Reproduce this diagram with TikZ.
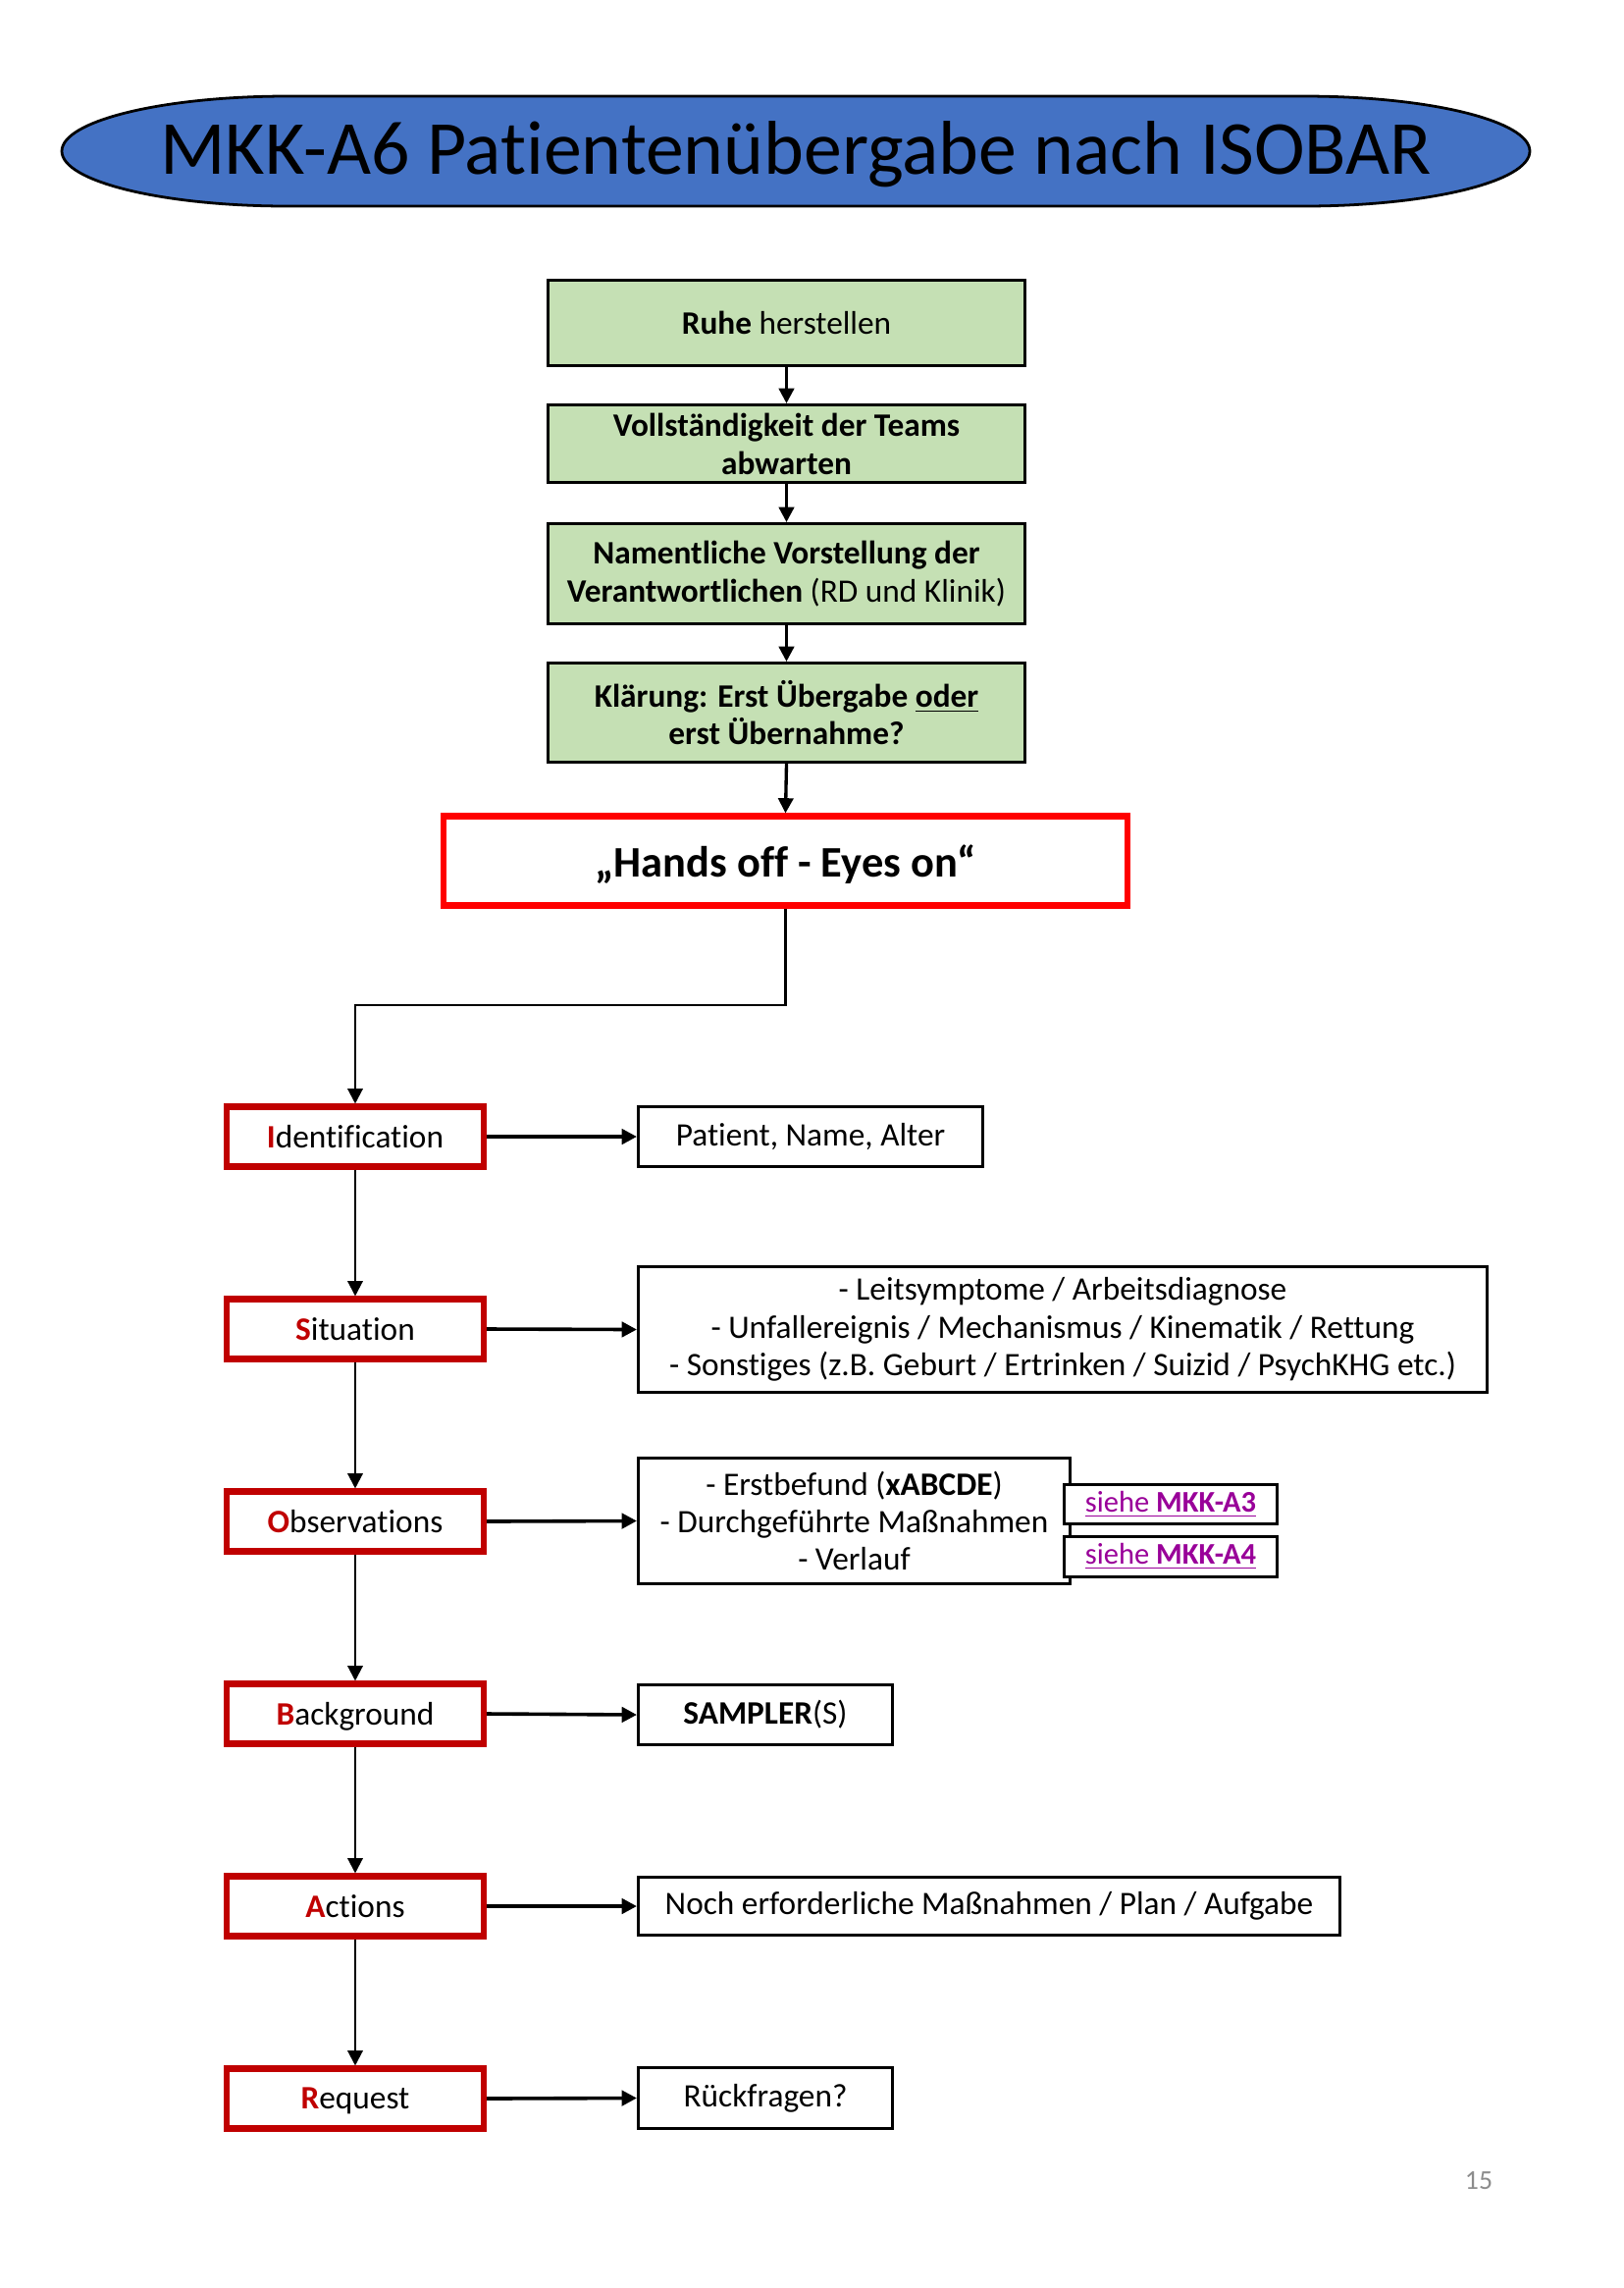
\documentclass[tikz,border=0pt]{standalone}
\usepackage{fontspec}
\setmainfont{Carlito}[Ligatures={NoCommon}]
\usetikzlibrary{arrows.meta,shapes.geometric}
\definecolor{titleblue}{HTML}{4472C4}
\definecolor{lgreen}{HTML}{C5E0B4}
\definecolor{dred}{HTML}{C00000}
\definecolor{linkpurple}{HTML}{990099}
\definecolor{pgray}{HTML}{8C8C8C}
\begin{document}
\begin{tikzpicture}[x=0.36pt,y=-0.36pt,
  sz/.style 2 args={minimum width=#1*0.36pt, minimum height=#2*0.36pt, inner sep=0pt},
  greenbox/.style={draw=black, line width=1.1pt, fill=lgreen, align=center, font=\fontsize{12}{14}\selectfont},
  handsbox/.style={draw=red, line width=2.2pt, fill=white, align=center, text depth=0pt, font=\fontsize{16}{19}\selectfont\bfseries},
  isobox/.style={draw=dred, line width=2.2pt, fill=white, text depth=0pt, font=\fontsize{12}{14}\selectfont},
  infobox/.style={draw=black, line width=1.1pt, fill=white, align=center, font=\fontsize{12}{13.8}\selectfont},
  linkbox/.style={draw=black, line width=1.1pt, fill=white, font=\fontsize{11}{13}\selectfont\color{linkpurple}},
  tip/.style={-{Triangle[length=5.5pt,width=5.5pt]}},
  greenarrow/.style={tip, line width=1.2pt},
  vlink/.style={tip, line width=0.8pt},
  hlink/.style={tip, line width=1.3pt},
]
\useasboundingbox (0,0) rectangle (1654,2331);
\fill[white] (0,0) rectangle (1654,2331);

% title (elongated oval with elliptical ends)
\draw[line width=1pt, fill=titleblue]
  (293,98) -- (1329,98)
  arc[start angle=90, end angle=-90, x radius=230*0.36pt, y radius=56*0.36pt]
  -- (293,210)
  arc[start angle=270, end angle=90, x radius=230*0.36pt, y radius=56*0.36pt]
  -- cycle;
\node[font=\fontsize{28}{33}\selectfont] (title) at (811,157) {MKK-A6 Patientenübergabe nach ISOBAR};

% green steps
\node[greenbox, sz={486}{87}] (g1) at (801.5,329) {\textbf{Ruhe} herstellen};
\node[greenbox, sz={486}{79}] (g2) at (801.5,452) {\textbf{Vollständigkeit der Teams}\\\textbf{abwarten}};
\node[greenbox, sz={486}{102}] (g3) at (801.5,584.5) {\textbf{Namentliche Vorstellung der}\\\textbf{Verantwortlichen} (RD und Klinik)};
\node[greenbox, sz={486}{101}] (g4) at (801.5,726) {\textbf{Klärung: Erst Übergabe \underline{oder}}\\\textbf{erst Übernahme?}};

\node[handsbox, sz={697}{91}] (hands) at (800.5,877) {„Hands off - Eyes on“};

\draw[greenarrow] (g1.south) -- (g2.north);
\draw[greenarrow] (g2.south) -- (g3.north);
\draw[greenarrow] (g3.south) -- (g4.north);
\draw[greenarrow] (g4.south) -- (hands.north);

% ISOBAR column
\node[isobox, sz={262}{61}] (ident) at (362,1158) {\textcolor{dred}{\textbf{I}}dentification};
\node[isobox, sz={262}{61}] (sit) at (362,1354) {\textcolor{dred}{\textbf{S}}ituation};
\node[isobox, sz={262}{61}] (obs) at (362,1550) {\textcolor{dred}{\textbf{O}}bservations};
\node[isobox, sz={262}{61}] (back) at (362,1746) {\textcolor{dred}{\textbf{B}}ackground};
\node[isobox, sz={262}{61}] (act) at (362,1942) {\textcolor{dred}{\textbf{A}}ctions};
\node[isobox, sz={262}{61}] (req) at (362,2138) {\textcolor{dred}{\textbf{R}}equest};

\coordinate (hk) at (800.5,1024);
\draw[vlink] (hands.south) -- (hk) -| (ident.north);
\draw[vlink] (ident.south) -- (sit.north);
\draw[vlink] (sit.south) -- (obs.north);
\draw[vlink] (obs.south) -- (back.north);
\draw[vlink] (back.south) -- (act.north);
\draw[vlink] (act.south) -- (req.north);

% info boxes
\node[infobox, sz={351}{61}] (pat) at (826,1158) {Patient, Name, Alter};
\node[infobox, sz={865}{128}] (sitinfo) at (1083,1354.5) {- Leitsymptome / Arbeitsdiagnose\\- Unfallereignis / Mechanismus / Kinematik / Rettung\\- Sonstiges (z.B. Geburt / Ertrinken / Suizid / PsychKHG etc.)};
\node[infobox, sz={440}{128}] (obsinfo) at (870.5,1549.5) {- Erstbefund (\textbf{xABCDE})\\- Durchgeführte Maßnahmen\\- Verlauf};
\node[linkbox, sz={217}{40}] (a3) at (1193,1532.5) {\underline{siehe \textbf{MKK-A3}}};
\node[linkbox, sz={217}{41}] (a4) at (1193,1586) {\underline{siehe \textbf{MKK-A4}}};
\node[infobox, sz={259}{61}] (sampler) at (780,1747) {\textbf{SAMPLER}(S)};
\node[infobox, sz={715}{59}] (noch) at (1008,1942) {Noch erforderliche Maßnahmen / Plan / Aufgabe};
\node[infobox, sz={259}{62}] (rueck) at (780,2137.5) {Rückfragen?};

\draw[hlink] (ident.east) -- (pat.west);
\draw[hlink] (sit.east) -- (sitinfo.west);
\draw[hlink] (obs.east) -- (obsinfo.west);
\draw[hlink] (back.east) -- (sampler.west);
\draw[hlink] (act.east) -- (noch.west);
\draw[hlink] (req.east) -- (rueck.west);

% page number
\node[font=\fontsize{10}{12}\selectfont, text=pgray] (pnum) at (1507,2222) {15};
\end{tikzpicture}
\end{document}
